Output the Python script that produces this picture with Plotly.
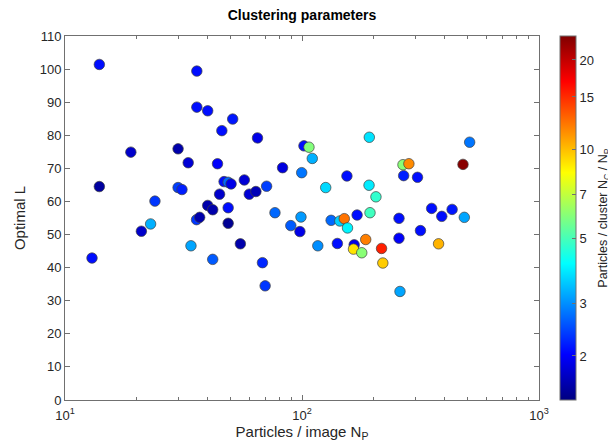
import numpy as np
import plotly.graph_objects as go

# Particles per image N_P
particles = [13.96, 36.0, 36.0, 40.0, 45.9, 51.0, 64.9, 18.96, 30.0, 33.1,
             44.0, 13.96, 30.0, 31.15, 46.9, 48.8, 50.2, 57.1, 70.9, 59.9,
             63.9, 44.9, 23.96, 40.0, 42.0, 48.8, 48.8, 22.97, 21.0, 35.9,
             37.0, 34.0, 42.0, 13.0, 54.95, 68.1, 69.9, 76.9, 99.0, 89.7,
             98.0, 82.8, 99.7, 101.9, 107.0, 110.5, 125.9, 154.7, 192.3, 191.8,
             116.6, 132.7, 144.4, 150.8, 155.6, 170.8, 193.6, 205.1, 141.0, 166.0,
             164.9, 178.7, 185.7, 216.6, 219.3, 256.6, 256.6, 259.1, 268.5, 307.2,
             266.7, 282.5, 477.9, 509.8, 316.1, 352.4, 388.8, 429.9, 484.0, 376.9]

# Optimal L
optimal_L = [101.4, 99.4, 88.5, 87.4, 81.4, 84.9, 79.2, 74.9, 75.9, 71.7,
             71.4, 64.5, 64.2, 63.6, 66.0, 65.8, 65.3, 66.5, 64.6, 62.2,
             63.0, 62.2, 60.1, 58.8, 57.5, 58.1, 53.4, 53.2, 51.0, 54.5,
             55.2, 46.6, 42.5, 42.9, 47.2, 41.5, 34.5, 56.6, 55.3, 52.7,
             50.9, 70.2, 68.7, 76.8, 76.4, 73.0, 64.2, 67.7, 79.4, 64.9,
             46.6, 54.3, 54.1, 54.8, 52.0, 55.9, 56.6, 61.4, 47.3, 46.9,
             45.6, 44.5, 48.5, 45.8, 41.4, 54.9, 48.9, 32.8, 67.8, 67.3,
             71.1, 71.4, 71.2, 77.9, 51.2, 57.9, 55.5, 57.6, 55.2, 47.2]

# Particles per cluster N_C / N_P
per_cluster = [2.1, 2.1, 2.1, 2.1, 2.1, 2.15, 1.9, 1.75, 1.6, 1.8,
               2.0, 1.55, 2.4, 2.2, 2.1, 2.7, 1.9, 1.8, 2.4, 1.8,
               1.65, 1.75, 2.35, 1.6, 1.6, 2.1, 1.5, 3.3, 1.75, 2.35,
               1.6, 3.2, 2.6, 2.1, 1.6, 2.25, 2.35, 2.7, 3.1, 2.6,
               1.9, 1.85, 2.8, 2.1, 5.9, 3.3, 3.7, 2.1, 3.8, 3.9,
               3.0, 2.7, 3.6, 12.3, 4.0, 2.1, 4.9, 4.7, 2.1, 1.9,
               9.0, 6.0, 11.9, 15.5, 9.6, 2.1, 2.0, 3.2, 2.2, 2.1,
               6.0, 11.5, 23.5, 2.8, 2.1, 2.1, 2.1, 2.15, 3.2, 10.3]

cbar_ticks = [2, 3, 5, 7, 10, 15, 20]
x_ticks = [10, 100, 1000]
x_ticktext = ["10<sup>1</sup>", "10<sup>2</sup>", "10<sup>3</sup>"]
y_ticks = list(range(0, 111, 10))

jet = [[0.0, "rgb(0,0,128)"], [0.125, "rgb(0,0,255)"], [0.375, "rgb(0,255,255)"],
       [0.625, "rgb(255,255,0)"], [0.875, "rgb(255,0,0)"], [1.0, "rgb(128,0,0)"]]

FONT = "Arial, Liberation Sans, sans-serif"
AX = "#707070"
TXT = "#262626"

fig = go.Figure()
fig.add_trace(go.Scatter(
    x=particles, y=optimal_L, mode="markers",
    marker=dict(
        size=10.5,
        color=np.log10(per_cluster),
        colorscale=jet, cmin=np.log10(1.42), cmax=np.log10(24.1),
        line=dict(color="#404040", width=0.7),
        showscale=True,
        colorbar=dict(
            x=1.0438, xanchor="left", xpad=0, y=0.5, yanchor="middle", ypad=0,
            len=1, lenmode="fraction", thickness=15.5,
            outlinecolor=AX, outlinewidth=1,
            tickmode="array", tickvals=np.log10(cbar_ticks).tolist(),
            ticktext=[str(t) for t in cbar_ticks],
            ticks="inside", ticklen=4, tickcolor=AX,
            tickfont=dict(family=FONT, size=13, color=TXT),
            title=dict(text="Particles / cluster N<sub>C</sub> / N<sub>P</sub>",
                       side="right", font=dict(family=FONT, size=12.5, color=TXT)),
        ),
    ),
    showlegend=False, hoverinfo="skip",
))

minor_vals = [m * 10 ** k for k in (1, 2) for m in range(2, 10)]

fig.update_layout(
    width=616, height=443,
    margin=dict(l=57.3, r=79.3, t=28.3, b=51),
    paper_bgcolor="white", plot_bgcolor="white",
    font=dict(family=FONT, color=TXT),
    title=dict(text="<b>Clustering parameters</b>", x=0.5, xref="paper",
               xanchor="center", y=0.984, yanchor="middle",
               font=dict(family=FONT, size=14, color="black")),
    xaxis=dict(
        type="log", range=[1, 3],
        tickmode="array", tickvals=x_ticks, ticktext=x_ticktext,
        ticks="inside", ticklen=5, tickcolor=AX, ticklabelstandoff=3,
        minor=dict(tickmode="array", tickvals=minor_vals, ticks="inside",
                   ticklen=3, tickcolor=AX, showgrid=False),
        showline=True, linecolor=AX, linewidth=1, mirror="ticks",
        showgrid=False, zeroline=False,
        tickfont=dict(family=FONT, size=13, color=TXT),
        title=dict(text="Particles / image N<sub>P</sub>", standoff=0,
                   font=dict(family=FONT, size=15, color=TXT)),
    ),
    yaxis=dict(
        range=[0, 110], tickmode="array", tickvals=y_ticks,
        ticks="inside", ticklen=5, tickcolor=AX,
        showline=True, linecolor=AX, linewidth=1, mirror="ticks",
        showgrid=False, zeroline=False,
        tickfont=dict(family=FONT, size=13, color=TXT),
        title=dict(text="Optimal L", standoff=10,
                   font=dict(family=FONT, size=15, color=TXT)),
    ),
)

fig.write_html("out.html")
